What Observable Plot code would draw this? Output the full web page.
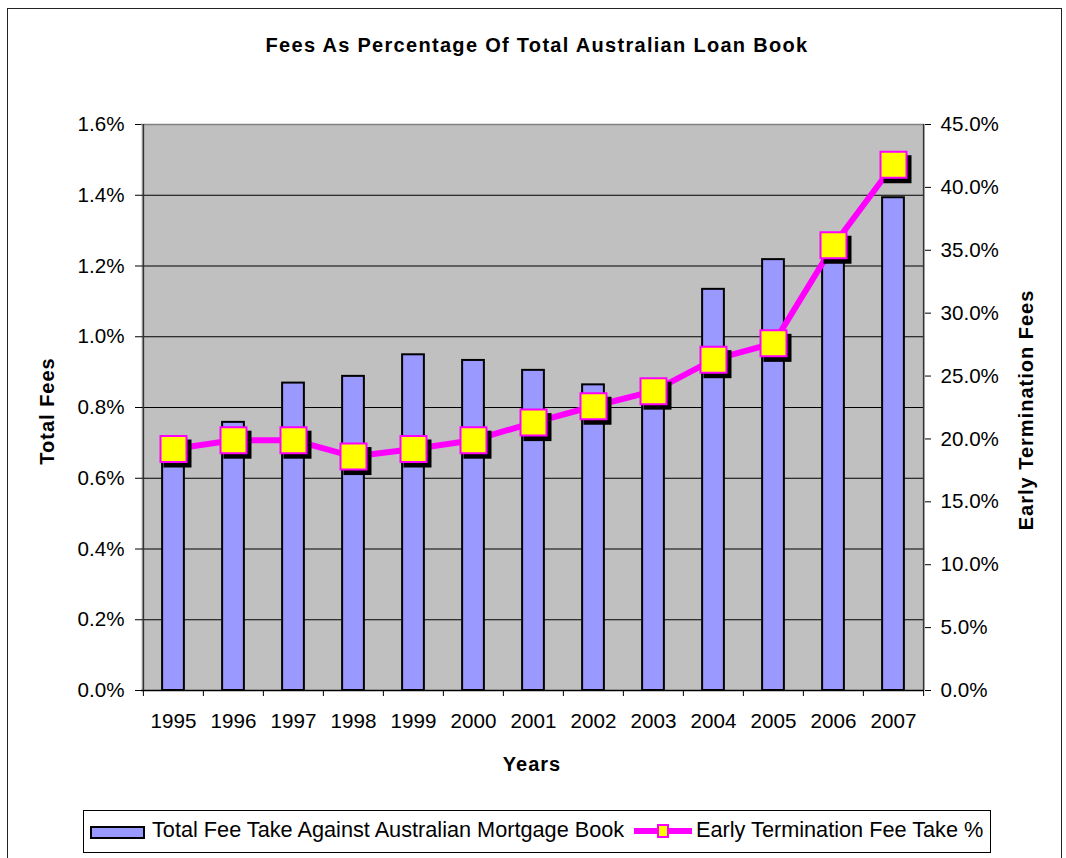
<!DOCTYPE html>
<html>
<head>
<meta charset="utf-8">
<script src="https://cdn.jsdelivr.net/npm/d3@7"></script>
<script src="https://cdn.jsdelivr.net/npm/@observablehq/plot@0.6"></script>
<style>
  body { margin: 0; background: #fff; }
  #wrap { position: relative; width: 1066px; height: 858px; overflow: hidden;
          font-family: "Liberation Sans", Arial, sans-serif; color: #000; }
  #border { position: absolute; left: 7px; top: 8px; width: 1055px; height: 900px;
            border: 1.5px solid #222; box-sizing: border-box; }
  #chart { position: absolute; left: 0; top: 0; }
  .t { position: absolute; white-space: nowrap; line-height: 20px; }
  #title { left: 0; width: 1074px; top: 35px; text-align: center; font-weight: bold;
           font-size: 20px; letter-spacing: 1.3px; }
  #xlabel { left: 532px; top: 764px; transform: translate(-50%, -50%); font-weight: bold;
            font-size: 20px; letter-spacing: 1px; }
  #ylabel { left: 47px; top: 411px; transform: translate(-50%, -50%) rotate(-90deg);
            font-weight: bold; font-size: 20px; letter-spacing: 1px; }
  #y2label { left: 1026px; top: 410px; transform: translate(-50%, -50%) rotate(-90deg);
             font-weight: bold; font-size: 20px; letter-spacing: 1px; }
  #legend { position: absolute; left: 83px; top: 810px; width: 908px; height: 43px;
            border: 1px solid #000; box-sizing: border-box; background: #fff; }
  .sw1 { position: absolute; left: 90px; top: 826px; width: 55px; height: 13px;
         background: #9999ff; border: 2px solid #000; box-sizing: border-box; }
  .sw2 { position: absolute; left: 634px; top: 828px; width: 58px; height: 6px; background: #ff00ff; }
  .sw2m { position: absolute; left: 657px; top: 824px; width: 12px; height: 14px;
          background: #ffff00; border: 2px solid #ff00ff; box-sizing: border-box; }
  .lt { position: absolute; top: 819px; font-size: 21.7px; line-height: 22px; white-space: nowrap; }
</style>
</head>
<body>
<div id="wrap">
  <div id="border"></div>
  <div id="chart"></div>
  <div class="t" id="title">Fees As Percentage Of Total Australian Loan Book</div>
  <div class="t" id="xlabel">Years</div>
  <div class="t" id="ylabel">Total Fees</div>
  <div class="t" id="y2label">Early Termination Fees</div>
  <div id="legend"></div>
  <div class="sw1"></div>
  <div class="lt" style="left:152px">Total Fee Take Against Australian Mortgage Book</div>
  <div class="sw2"></div>
  <div class="sw2m"></div>
  <div class="lt" style="left:696px">Early Termination Fee Take %</div>
</div>
<script>
// ---- data ----
const years = [1995, 1996, 1997, 1998, 1999, 2000, 2001, 2002, 2003, 2004, 2005, 2006, 2007];
// Total fee take against Australian mortgage book (% of loan book), left axis
const totalFees = [0.66, 0.758, 0.869, 0.888, 0.949, 0.933, 0.905, 0.864, 0.82, 1.134, 1.218, 1.27, 1.393];
// Early termination fee take (%), right axis
const earlyTermination = [19.2, 19.9, 19.9, 18.6, 19.2, 19.9, 21.3, 22.6, 23.8, 26.3, 27.6, 35.4, 41.8];
// axis ticks
const leftTicks = [0, 0.2, 0.4, 0.6, 0.8, 1.0, 1.2, 1.4, 1.6];
const rightTicks = [0, 5, 10, 15, 20, 25, 30, 35, 40, 45];

// ---- layout / scales ----
const leftMax = 1.6, rightMax = 45;
const k = leftMax / rightMax; // map right-axis values into left-axis units
const rows = years.map((y, i) => ({year: y, total: totalFees[i], etf: earlyTermination[i], etfScaled: earlyTermination[i] * k}));

const W = 1066, H = 858, mL = 141, mR = 142, mT = 124, mB = 168;
const bw = (W - mL - mR) / years.length;
const barInset = (bw - 22) / 2;
const tickLen = 6 * leftMax / (H - mT - mB);
const last = years[years.length - 1];

const chart = Plot.plot({
  width: W, height: H,
  marginLeft: mL, marginRight: mR, marginTop: mT, marginBottom: mB,
  style: {fontFamily: "'Liberation Sans', Arial, sans-serif", fontSize: "20.6px", color: "#000", background: "transparent", overflow: "visible"},
  x: {type: "band", domain: years, padding: 0, axis: null, label: null},
  y: {domain: [0, leftMax], axis: null, label: null},
  marks: [
    Plot.frame({fill: "#c0c0c0", stroke: null}),
    Plot.gridY(leftTicks.filter(v => v > 0 && v < leftMax), {stroke: "#000", strokeOpacity: 1, strokeWidth: 1}),
    Plot.ruleY([leftMax], {stroke: "#808080", strokeWidth: 1.5}),
    Plot.barY(rows, {x: "year", y: "total", fill: "#9999ff", stroke: "#000", strokeWidth: 2, insetLeft: barInset, insetRight: barInset}),
    Plot.ruleY([0], {stroke: "#000", strokeWidth: 1.5}),
    Plot.ruleX(years, {x: d => d, dx: -bw / 2, y1: 0, y2: -tickLen, stroke: "#000", strokeWidth: 1}),
    Plot.ruleX([last], {x: d => d, dx: bw / 2, y1: 0, y2: -tickLen, stroke: "#000", strokeWidth: 1}),
    Plot.ruleX([years[0]], {x: d => d, dx: -bw / 2, y1: 0, y2: leftMax, stroke: "#333", strokeWidth: 1.5}),
    Plot.ruleX([last], {x: d => d, dx: bw / 2, y1: 0, y2: leftMax, stroke: "#333", strokeWidth: 1.5}),
    Plot.axisY({anchor: "left", ticks: leftTicks, tickFormat: d => d.toFixed(1) + "%", tickSize: 6, tickPadding: 11, label: null, stroke: "#000"}),
    Plot.axisY({anchor: "right", ticks: rightTicks.map(v => v * k), tickFormat: d => (d / k).toFixed(1) + "%", tickSize: 6, tickPadding: 10, label: null, stroke: "#000"}),
    Plot.axisX({anchor: "bottom", tickSize: 0, tickPadding: 23, label: null, tickFormat: d => String(d)}),
    Plot.line(rows, {x: "year", y: "etfScaled", stroke: "#ff00ff", strokeWidth: 6}),
    Plot.dot(rows, {x: "year", y: "etfScaled", symbol: "square", r: 15.8, fill: "#000", stroke: null, dx: 4, dy: 4.5}),
    Plot.dot(rows, {x: "year", y: "etfScaled", symbol: "square", r: 14.67, fill: "#ffff00", stroke: "#ff00ff", strokeWidth: 2})
  ]
});
document.getElementById("chart").appendChild(chart);
</script>
</body>
</html>
